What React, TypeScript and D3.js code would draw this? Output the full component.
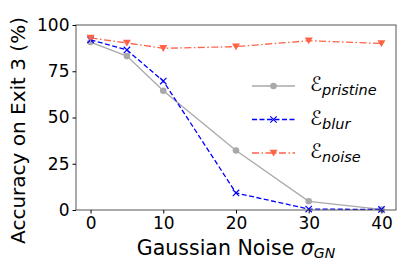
import React, { useEffect, useRef } from 'react';
import * as d3 from 'd3';

const sigmas = [0, 5, 10, 20, 30, 40];
const pristine = [90.8, 83.2, 64.5, 32.2, 4.7, 0.3];
const blur = [92.0, 86.5, 69.7, 9.2, 0.5, 0.3];
const noise = [93.0, 90.3, 87.4, 88.3, 91.5, 90.0];
const yTicks = [0, 25, 50, 75, 100];
const xTicks = [0, 10, 20, 30, 40];

const W = 407;
const H = 271;
const margin = { left: 76, right: 11, top: 25, bottom: 61 };
const font = 'DejaVu Sans';

export default function App() {
  const svgRef = useRef<SVGSVGElement>(null);

  useEffect(() => {
    const elm = svgRef.current;
    if (!elm) return;
    const svg = d3.select(elm);
    svg.selectAll('*').remove();

    const x = d3.scaleLinear().domain([-2, 42]).range([margin.left, W - margin.right]);
    const y = d3.scaleLinear().domain([0, 100]).range([H - margin.bottom, margin.top]);

    const series = [
      { name: 'pristine', vals: pristine, color: '#a9a9a9', dash: 'none', marker: 'circle' },
      { name: 'blur', vals: blur, color: '#0000ff', dash: '5,2.5', marker: 'x' },
      { name: 'noise', vals: noise, color: '#ff6347', dash: '7,2.5,1.5,2.5', marker: 'tri' },
    ];

    const line = d3.line<number>()
      .x((_, i) => x(sigmas[i]))
      .y(d => y(d));

    const drawMarker = (g: any, kind: string, cx: number, cy: number, color: string) => {
      if (kind === 'circle') {
        g.append('circle').attr('cx', cx).attr('cy', cy).attr('r', 3.3).attr('fill', color);
      } else if (kind === 'x') {
        const s = 3.2;
        g.append('path')
          .attr('d', `M${cx - s},${cy - s}L${cx + s},${cy + s}M${cx - s},${cy + s}L${cx + s},${cy - s}`)
          .attr('stroke', color).attr('stroke-width', 1.2);
      } else {
        const s = 4;
        g.append('path')
          .attr('d', `M${cx - s},${cy - s * 0.8}L${cx + s},${cy - s * 0.8}L${cx},${cy + s * 0.9}Z`)
          .attr('fill', color);
      }
    };

    const plot = svg.append('g');

    series.forEach(s => {
      plot.append('path')
        .attr('d', line(s.vals))
        .attr('fill', 'none')
        .attr('stroke', s.color)
        .attr('stroke-width', 1.3)
        .attr('stroke-dasharray', s.dash);
      s.vals.forEach((v, i) => drawMarker(plot, s.marker, x(sigmas[i]), y(v), s.color));
    });

    // frame
    svg.append('rect')
      .attr('x', margin.left).attr('y', margin.top)
      .attr('width', W - margin.left - margin.right)
      .attr('height', H - margin.top - margin.bottom)
      .attr('fill', 'none').attr('stroke', '#555').attr('stroke-width', 1);

    // y axis
    const yAxis = svg.append('g').attr('transform', `translate(${margin.left},0)`)
      .call(d3.axisLeft(y).tickValues(yTicks).tickSize(3.5).tickPadding(3));
    yAxis.select('.domain').remove();
    yAxis.selectAll('text').attr('font-family', font).attr('font-size', 17).attr('fill', '#000');

    const xAxis = svg.append('g').attr('transform', `translate(0,${H - margin.bottom})`)
      .call(d3.axisBottom(x).tickValues(xTicks).tickSize(3.5).tickPadding(3));
    xAxis.select('.domain').remove();
    xAxis.selectAll('text').attr('font-family', font).attr('font-size', 17).attr('fill', '#000');

    svg.append('text')
      .attr('transform', `translate(25,${(margin.top + H - margin.bottom) / 2 + 13}) rotate(-90)`)
      .attr('text-anchor', 'middle')
      .attr('font-family', font).attr('font-size', 20)
      .text('Accuracy on Exit 3 (%)');

    const xl = svg.append('text')
      .attr('x', (margin.left + W - margin.right) / 2 + 0)
      .attr('y', 255)
      .attr('text-anchor', 'middle')
      .attr('font-family', font).attr('font-size', 20.5);
    xl.append('tspan').text('Gaussian Noise ');
    xl.append('tspan').attr('font-style', 'italic').text('σ');
    xl.append('tspan').attr('font-style', 'italic').attr('font-size', 14).attr('dy', 3).text('GN');

    // legend
    const leg = svg.append('g');
    series.forEach((s, i) => {
      const ly = 86 + i * 33.5;
      leg.append('line').attr('x1', 252).attr('x2', 295).attr('y1', ly).attr('y2', ly)
        .attr('stroke', s.color).attr('stroke-width', 1.3).attr('stroke-dasharray', s.dash);
      drawMarker(leg, s.marker, 273.5, ly, s.color);
      const t = leg.append('text').attr('x', 310).attr('y', ly + 5)
        .attr('font-family', font).attr('font-size', 20);
      t.append('tspan').attr('font-style', 'italic').text('ℰ');
      t.append('tspan').attr('font-style', 'italic').attr('font-size', 14.5).attr('dy', 4).text(s.name);
    });
  }, []);

  return <svg ref={svgRef} width={W} height={H} style={{ display: 'block', position: 'absolute', left: 0, top: 0 }}></svg>;
}
